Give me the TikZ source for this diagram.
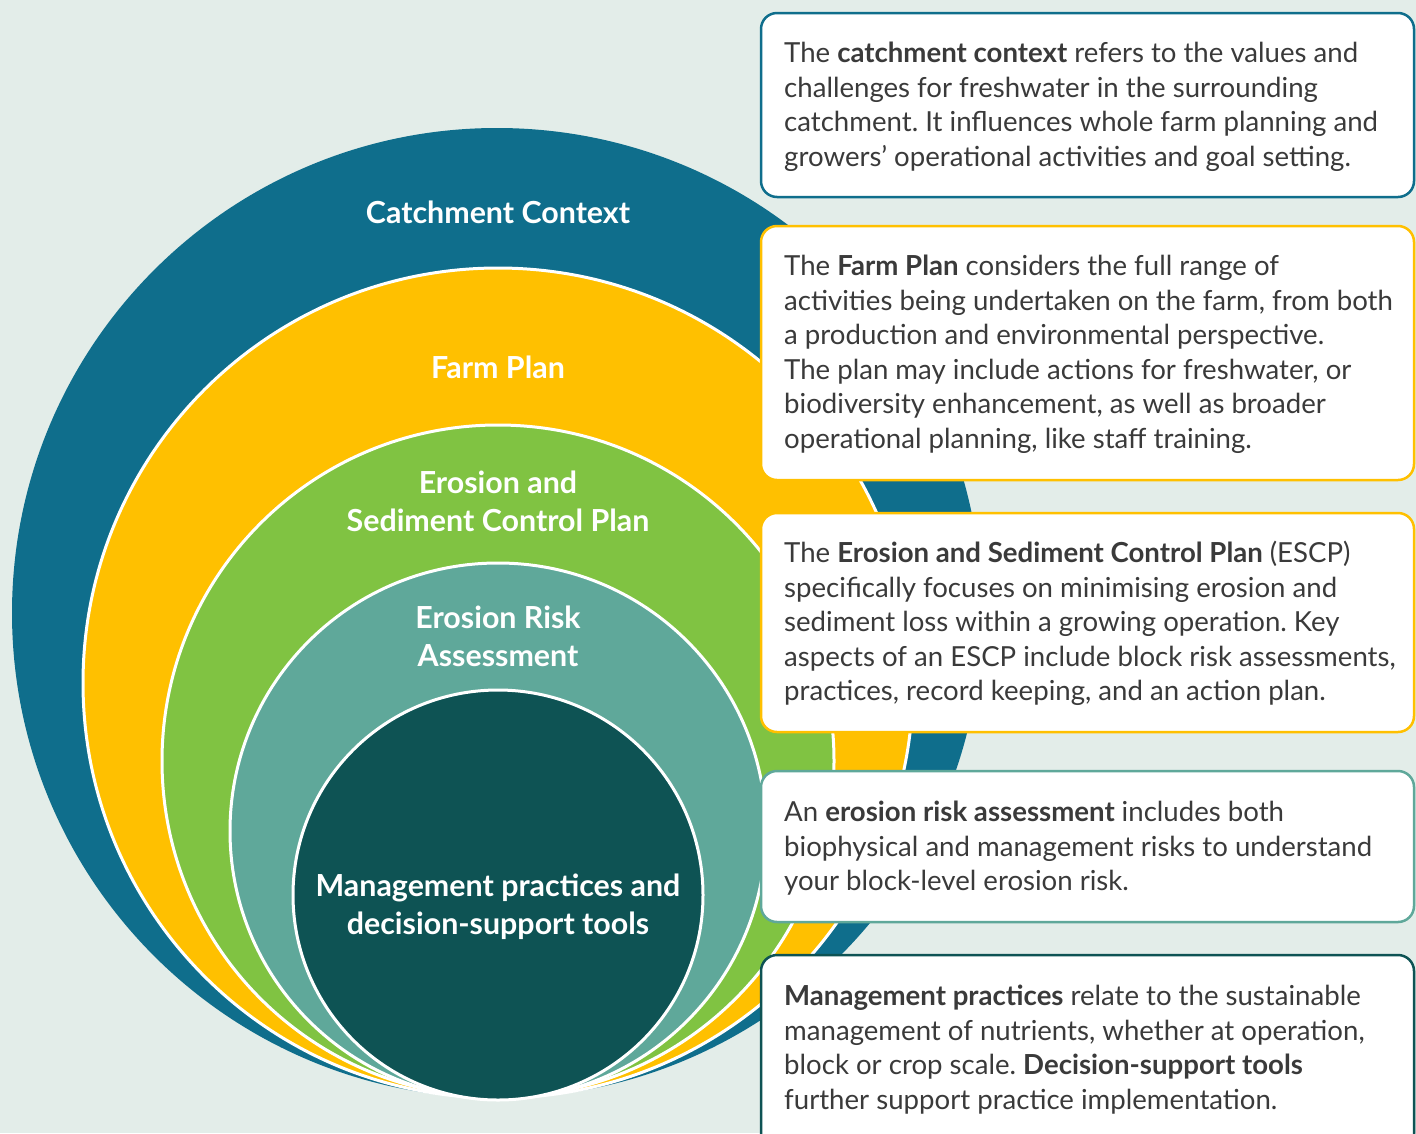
\documentclass[tikz,border=0pt]{standalone}
\usepackage{fontspec}
\setmainfont{Lato}
\usetikzlibrary{positioning}
\frenchspacing

\definecolor{bgcol}{HTML}{E3EDE9}
\definecolor{catchcol}{HTML}{0F6E8C}
\definecolor{farmcol}{HTML}{FFC000}
\definecolor{escpcol}{HTML}{80C342}
\definecolor{riskcol}{HTML}{5FA89A}
\definecolor{mgmtcol}{HTML}{0E5354}
\definecolor{txtcol}{HTML}{3A3A3A}

\begin{document}
\begin{tikzpicture}[x=1bp,y=-1bp]
        \tikzstyle{ring} = [draw=white, line width=3bp]
        \tikzstyle{ringlabel} = [text=white, font=\fontsize{30.5}{38}\selectfont\bfseries, align=center]
        \tikzstyle{infobox} = [fill=white, line width=2.5bp, rounded corners=16bp]
        \tikzstyle{info} = [anchor=north west, inner sep=0pt, text=txtcol, font=\fontsize{27.7}{34.7}\selectfont, align=left]

        \useasboundingbox (0,0) rectangle (1416,1133);
        \clip (0,0) rectangle (1416,1133);
        \fill[bgcol] (0,0) rectangle (1416,1133);

        % nested rings, all touching at the bottom
        \fill[catchcol] (497,613) circle (485);
        \filldraw[ring, fill=farmcol] (498,683) circle (415);
        \filldraw[ring, fill=escpcol] (498,761) circle (336);
        \filldraw[ring, fill=riskcol] (498,831) circle (268);
        \filldraw[ring, fill=mgmtcol] (498,895) circle (205);

        \node[ringlabel] (catchment) at (498,212) {Catchment Context};
        \node[ringlabel] (farm) at (498,367) {Farm Plan};
        \node[ringlabel] (escp) at (498,501) {Erosion and\\Sediment Control Plan};
        \node[ringlabel] (risk) at (498,636) {Erosion Risk\\Assessment};
        \node[ringlabel] (mgmt) at (498,907) {Management practices and\\decision-support tools};

        % description boxes
        \draw[infobox, draw=catchcol] (761,13) rectangle (1414,197);
        \draw[infobox, draw=farmcol] (761,226) rectangle (1414,480);
        \draw[infobox, draw=farmcol] (761,513) rectangle (1414,732);
        \draw[infobox, draw=riskcol] (761,771) rectangle (1414,922);
        \draw[infobox, draw=mgmtcol] (761,955) rectangle (1414,1150);

        \node[info] (catchmentInfo) at (784,42) {The \textbf{catchment context} refers to the values and\\
            challenges for freshwater in the surrounding\\
            catchment. It influences whole farm planning and\\
            growers’ operational activities and goal setting.};
        \node[info] (farmInfo) at (784,255) {The \textbf{Farm Plan} considers the full range of\\
            activities being undertaken on the farm, from both\\
            a production and environmental perspective.\\
            The plan may include actions for freshwater, or\\
            biodiversity enhancement, as well as broader\\
            operational planning, like staff training.};
        \node[info] (escpInfo) at (784,541) {The \textbf{Erosion and Sediment Control Plan} (ESCP)\\
            specifically focuses on minimising erosion and\\
            sediment loss within a growing operation. Key\\
            aspects of an ESCP include block risk assessments,\\
            practices, record keeping, and an action plan.};
        \node[info] (riskInfo) at (784,801) {An \textbf{erosion risk assessment} includes both\\
            biophysical and management risks to understand\\
            your block-level erosion risk.};
        \node[info] (mgmtInfo) at (784,985) {\textbf{Management practices} relate to the sustainable\\
            management of nutrients, whether at operation,\\
            block or crop scale. \textbf{Decision-support tools}\\
            further support practice implementation.};
\end{tikzpicture}
\end{document}
